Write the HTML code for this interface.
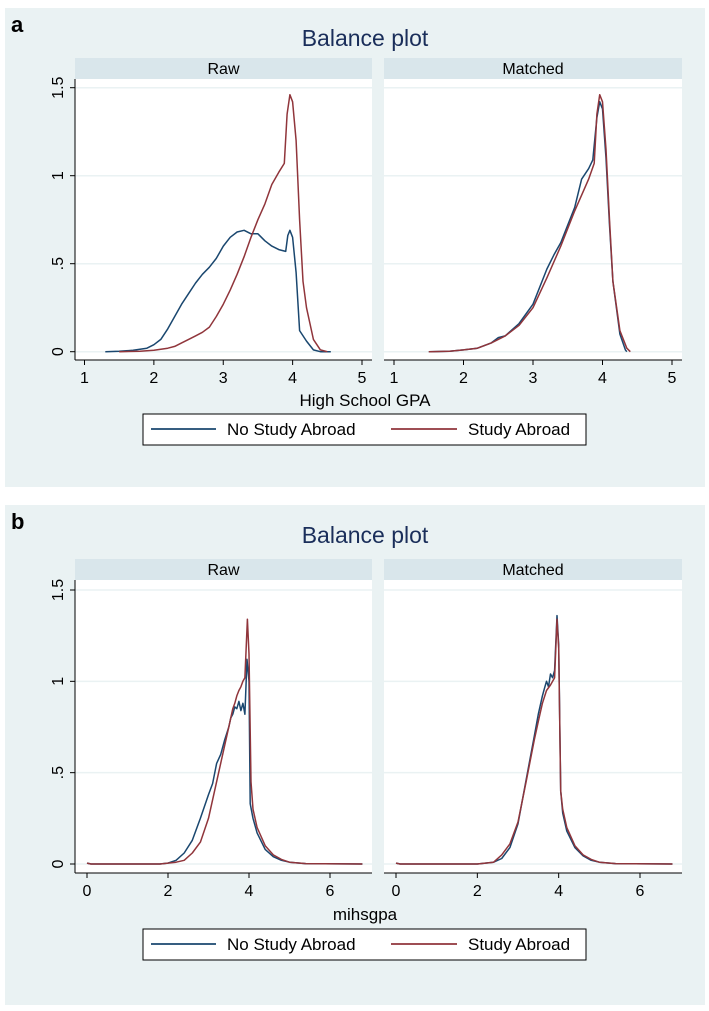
<!DOCTYPE html>
<html><head><meta charset="utf-8"><style>
body{margin:0;background:#fff;}
svg{display:block;font-family:"Liberation Sans",sans-serif;}
</style></head><body>
<svg id="c" width="709" height="1011"></svg>
<script>
// ---- Data (panel a: High School GPA) ----
const aRawNoX=[1.3,1.5,1.7,1.9,2.0,2.1,2.2,2.3,2.4,2.5,2.6,2.7,2.8,2.9,3.0,3.1,3.2,3.3,3.4,3.5,3.6,3.7,3.8,3.9,3.93,3.96,4.0,4.05,4.1,4.2,4.3,4.4,4.55];
const aRawNoY=[0,0.003,0.008,0.02,0.04,0.07,0.13,0.2,0.27,0.33,0.39,0.44,0.48,0.53,0.6,0.65,0.68,0.69,0.67,0.67,0.63,0.6,0.58,0.57,0.66,0.69,0.65,0.45,0.12,0.06,0.01,0,0];
const aRawSaX=[1.5,1.8,2.0,2.2,2.3,2.4,2.5,2.6,2.7,2.8,2.9,3.0,3.1,3.2,3.3,3.4,3.5,3.6,3.7,3.8,3.88,3.92,3.96,4.0,4.05,4.1,4.15,4.2,4.3,4.4,4.5];
const aRawSaY=[0,0.003,0.008,0.02,0.03,0.05,0.07,0.09,0.11,0.14,0.2,0.27,0.35,0.44,0.54,0.65,0.75,0.84,0.95,1.02,1.07,1.35,1.46,1.42,1.2,0.75,0.4,0.25,0.07,0.01,0];
const aMatNoX=[1.5,1.8,2.0,2.2,2.4,2.5,2.6,2.8,3.0,3.2,3.3,3.4,3.6,3.7,3.8,3.86,3.92,3.96,4.0,4.05,4.1,4.15,4.25,4.33,4.35];
const aMatNoY=[0,0.003,0.01,0.02,0.05,0.08,0.09,0.16,0.27,0.47,0.55,0.62,0.82,0.98,1.04,1.09,1.33,1.42,1.38,1.1,0.72,0.4,0.1,0.01,0];
const aMatSaX=[1.5,1.8,2.0,2.2,2.4,2.6,2.8,3.0,3.2,3.4,3.6,3.8,3.88,3.92,3.96,4.0,4.05,4.1,4.15,4.25,4.35,4.4];
const aMatSaY=[0,0.003,0.01,0.02,0.05,0.09,0.15,0.25,0.42,0.6,0.8,0.98,1.07,1.35,1.46,1.42,1.15,0.75,0.4,0.12,0.02,0];
// ---- Data (panel b: mihsgpa) ----
const bRawNoX=[0,0.1,1.8,2.0,2.2,2.4,2.6,2.8,3.0,3.1,3.2,3.3,3.4,3.5,3.55,3.6,3.65,3.7,3.75,3.8,3.85,3.9,3.95,4.0,4.03,4.1,4.2,4.4,4.6,4.8,5.0,5.4,6.8];
const bRawNoY=[0.005,0,0,0.005,0.02,0.06,0.13,0.25,0.38,0.44,0.55,0.6,0.68,0.75,0.8,0.82,0.86,0.85,0.89,0.84,0.88,0.82,1.12,1.0,0.33,0.25,0.17,0.08,0.04,0.02,0.01,0.002,0];
const bRawSaX=[0,0.1,1.8,2.2,2.4,2.6,2.8,3.0,3.2,3.4,3.5,3.6,3.65,3.7,3.75,3.8,3.85,3.9,3.96,4.0,4.05,4.1,4.2,4.4,4.6,4.8,5.0,5.4,6.8];
const bRawSaY=[0.005,0,0,0.01,0.02,0.06,0.12,0.25,0.45,0.65,0.75,0.85,0.88,0.92,0.95,0.97,1.0,1.02,1.34,1.15,0.45,0.3,0.2,0.1,0.05,0.025,0.01,0.002,0];
const bMatNoX=[0,0.1,2.0,2.4,2.6,2.8,3.0,3.2,3.4,3.5,3.6,3.65,3.7,3.75,3.8,3.85,3.9,3.96,4.0,4.05,4.1,4.2,4.4,4.6,4.8,5.0,5.4,6.8];
const bMatNoY=[0.005,0,0,0.01,0.03,0.09,0.22,0.46,0.7,0.82,0.92,0.96,1.0,0.97,1.04,1.02,1.06,1.36,1.2,0.4,0.28,0.18,0.09,0.045,0.02,0.01,0.002,0];
const bMatSaX=[0,0.1,2.0,2.4,2.6,2.8,3.0,3.2,3.4,3.5,3.6,3.7,3.8,3.9,3.96,4.0,4.05,4.1,4.2,4.4,4.6,4.8,5.0,5.4,6.8];
const bMatSaY=[0.005,0,0,0.01,0.05,0.11,0.23,0.45,0.68,0.78,0.88,0.95,0.98,1.02,1.34,1.18,0.4,0.3,0.2,0.1,0.05,0.025,0.01,0.002,0];
const aXTicks=[1,2,3,4,5];
const bXTicks=[0,2,4,6];
const yTicks=[0,0.5,1,1.5];
const yTickLabels=["0",".5","1","1.5"];

const NS="http://www.w3.org/2000/svg";
const svg=document.getElementById('c');
function mk(tag,attrs,parent,text){const e=document.createElementNS(NS,tag);for(const k in attrs)e.setAttribute(k,attrs[k]);if(text!==undefined)e.textContent=text;(parent||svg).appendChild(e);return e;}
const BLUE="#1a476f",RED="#90353b";

function panel(o){
  const g=mk('g',{});
  
  
  const T=o.top;
  const bg=mk('rect',{x:5,y:T,width:700,height:o.h,fill:'#eaf2f3'},g);
  
  const lb=mk('text',{x:11,y:T+24,'font-size':22,'font-weight':'bold',fill:'#000'},g,o.letter);
  
  const tt=mk('text',{x:365,y:T+38,'font-size':23,fill:'#1a2e5a','text-anchor':'middle'},g,'Balance plot');
  
  const y0=o.y0, y15=o.y15, axisY=o.axisY;
  const ys=v=>y0+(y15-y0)*v/1.5;
  o.subs.forEach((s,i)=>{
    const sg=mk('g',{},g);
    
    
    const st=mk('rect',{x:s.x0,y:o.stripTop,width:s.x1-s.x0,height:o.stripBot-o.stripTop,fill:'#d9e6eb'},sg);
    
    const stt=mk('text',{x:(s.x0+s.x1)/2,y:o.stripBot-5,'font-size':16,'text-anchor':'middle',fill:'#000'},sg,s.title);
    
    const pa=mk('rect',{x:s.x0,y:o.stripBot,width:s.x1-s.x0,height:axisY-o.stripBot,fill:'#fff'},sg);
    
    yTicks.forEach(v=>{const gl=mk('line',{x1:s.x0,x2:s.x1,y1:ys(v),y2:ys(v),stroke:'#eaf2f3','stroke-width':1.5},sg);
      });
    const xs=v=>s.px0+(s.px1-s.px0)*(v-s.t0)/(s.t1-s.t0);
    const ax=mk('line',{x1:s.x0,x2:s.x1,y1:axisY,y2:axisY,stroke:'#000','stroke-width':1},sg);
    
    o.xticks.forEach(v=>{
      const tk=mk('line',{x1:xs(v),x2:xs(v),y1:axisY,y2:axisY+5,stroke:'#000'},sg);
      
      const tl=mk('text',{x:xs(v),y:axisY+23,'font-size':16,'text-anchor':'middle'},sg,String(v));
      
    });
    [[s.noX,s.noY,BLUE,'no-study-abroad-line'],[s.saX,s.saY,RED,'study-abroad-line']].forEach(([X,Y,c,n])=>{
      const d=X.map((x,k)=>(k?'L':'M')+xs(x).toFixed(1)+' '+ys(Y[k]).toFixed(1)).join(' ');
      const p=mk('path',{d:d,fill:'none',stroke:c,'stroke-width':1.5,'stroke-linejoin':'round'},sg);
      
    });
    if(i===0){
      const ya=mk('line',{x1:s.x0,x2:s.x0,y1:o.stripBot,y2:axisY,stroke:'#000'},sg);
      
      yTicks.forEach((v,k)=>{
        const tk=mk('line',{x1:s.x0-5,x2:s.x0,y1:ys(v),y2:ys(v),stroke:'#000'},sg);
        
        const tl=mk('text',{x:0,y:0,'font-size':16,'text-anchor':'middle',transform:`translate(${s.x0-12},${ys(v)}) rotate(-90)`},sg,yTickLabels[k]);
        
      });
    }
  });
  const xt=mk('text',{x:365,y:o.xTitleY,'font-size':17,'text-anchor':'middle'},g,o.xTitle);
  
  const L=o.legTop;
  const lg=mk('g',{},g);
  
  mk('rect',{x:143,y:L,width:443,height:31,fill:'#fff',stroke:'#000','stroke-width':1},lg);
  const l1=mk('line',{x1:151,x2:216,y1:L+15,y2:L+15,stroke:BLUE,'stroke-width':1.8},lg);
  
  const t1=mk('text',{x:227,y:L+21,'font-size':17},lg,'No Study Abroad');
  
  const l2=mk('line',{x1:391,x2:457,y1:L+15,y2:L+15,stroke:RED,'stroke-width':1.8},lg);
  
  const t2=mk('text',{x:468,y:L+21,'font-size':17},lg,'Study Abroad');
  
}

panel({name:'panel-a',letter:'a',top:8,h:479,stripTop:58,stripBot:79,y0:351.7,y15:87.7,axisY:360,
  xticks:aXTicks,xTitle:'High School GPA',xTitleY:406,legTop:414,
  subs:[{title:'Raw',x0:75,x1:372,px0:84.5,px1:362,t0:1,t1:5,noX:aRawNoX,noY:aRawNoY,saX:aRawSaX,saY:aRawSaY},
        {title:'Matched',x0:384,x1:682,px0:394,px1:672,t0:1,t1:5,noX:aMatNoX,noY:aMatNoY,saX:aMatSaX,saY:aMatSaY}]});
panel({name:'panel-b',letter:'b',top:505,h:500,stripTop:559,stripBot:580,y0:864,y15:590,axisY:873,
  xticks:bXTicks,xTitle:'mihsgpa',xTitleY:920,legTop:929,
  subs:[{title:'Raw',x0:75,x1:372,px0:87,px1:330,t0:0,t1:6,noX:bRawNoX,noY:bRawNoY,saX:bRawSaX,saY:bRawSaY},
        {title:'Matched',x0:384,x1:682,px0:396,px1:640,t0:0,t1:6,noX:bMatNoX,noY:bMatNoY,saX:bMatSaX,saY:bMatSaY}]});
</script>
</body></html>
